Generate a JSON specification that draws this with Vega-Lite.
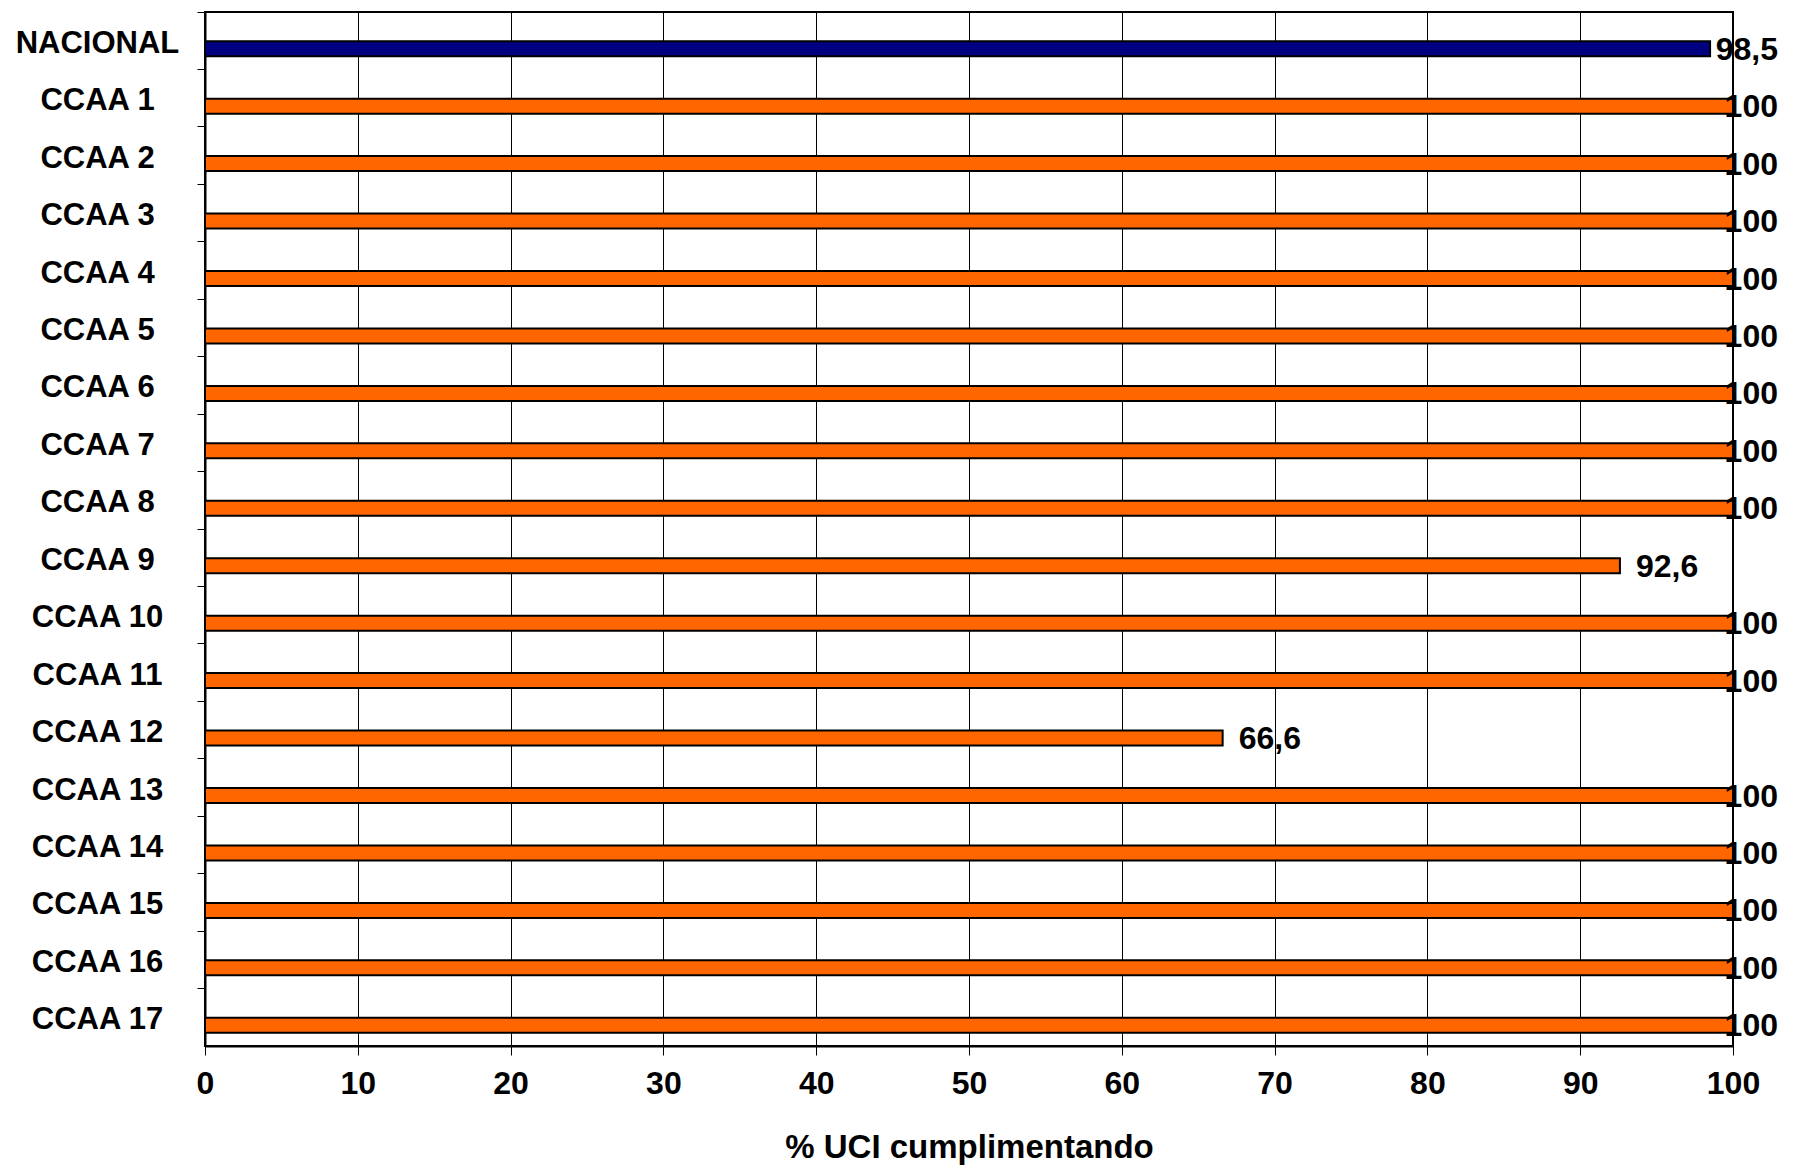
{
  "$schema": "https://vega.github.io/schema/vega-lite/v6.json",
  "autosize": "none",
  "width": 1528,
  "height": 1034,
  "padding": {"left": 205, "top": 12, "right": 64, "bottom": 129},
  "background": "white",
  "config": {
    "view": {"stroke": "black", "strokeWidth": 2},
    "font": "Liberation Sans",
    "axis": {
      "labelFont": "Liberation Sans",
      "titleFont": "Liberation Sans",
      "labelFontWeight": "bold",
      "titleFontWeight": "bold",
      "labelColor": "black",
      "titleColor": "black",
      "labelFontSize": 32,
      "titleFontSize": 33,
      "domainColor": "black",
      "domainWidth": 2,
      "tickColor": "black"
    }
  },
  "data": {
    "values": [
      {"region": "NACIONAL", "value": 98.5, "label": "98,5", "tipo": "nacional"},
      {"region": "CCAA 1", "value": 100, "label": "100", "tipo": "ccaa"},
      {"region": "CCAA 2", "value": 100, "label": "100", "tipo": "ccaa"},
      {"region": "CCAA 3", "value": 100, "label": "100", "tipo": "ccaa"},
      {"region": "CCAA 4", "value": 100, "label": "100", "tipo": "ccaa"},
      {"region": "CCAA 5", "value": 100, "label": "100", "tipo": "ccaa"},
      {"region": "CCAA 6", "value": 100, "label": "100", "tipo": "ccaa"},
      {"region": "CCAA 7", "value": 100, "label": "100", "tipo": "ccaa"},
      {"region": "CCAA 8", "value": 100, "label": "100", "tipo": "ccaa"},
      {"region": "CCAA 9", "value": 92.6, "label": "92,6", "tipo": "ccaa"},
      {"region": "CCAA 10", "value": 100, "label": "100", "tipo": "ccaa"},
      {"region": "CCAA 11", "value": 100, "label": "100", "tipo": "ccaa"},
      {"region": "CCAA 12", "value": 66.6, "label": "66,6", "tipo": "ccaa"},
      {"region": "CCAA 13", "value": 100, "label": "100", "tipo": "ccaa"},
      {"region": "CCAA 14", "value": 100, "label": "100", "tipo": "ccaa"},
      {"region": "CCAA 15", "value": 100, "label": "100", "tipo": "ccaa"},
      {"region": "CCAA 16", "value": 100, "label": "100", "tipo": "ccaa"},
      {"region": "CCAA 17", "value": 100, "label": "100", "tipo": "ccaa"}
    ]
  },
  "encoding": {
    "y": {
      "field": "region",
      "type": "nominal",
      "sort": null,
      "scale": {"paddingInner": 0, "paddingOuter": 0},
      "axis": {
        "title": null,
        "labelAlign": "center",
        "labelPadding": 100,
        "labelFontSize": 31,
        "labelOffset": 3,
        "tickSize": 8,
        "tickWidth": 1,
        "bandPosition": 0,
        "labelBaseline": "middle"
      }
    }
  },
  "layer": [
    {
      "mark": {"type": "bar", "size": 15, "yOffset": 8, "stroke": "black", "strokeWidth": 2},
      "encoding": {
        "x": {
          "field": "value",
          "type": "quantitative",
          "scale": {"domain": [0, 100], "nice": false},
          "axis": {
            "title": "% UCI cumplimentando",
            "values": [0, 10, 20, 30, 40, 50, 60, 70, 80, 90, 100],
            "grid": true,
            "gridColor": "black",
            "gridWidth": 1,
            "gridOpacity": 1,
            "tickSize": 9,
            "tickWidth": 1,
            "labelFlush": false,
            "labelPadding": 13,
            "titlePadding": 32
          }
        },
        "color": {
          "field": "tipo",
          "type": "nominal",
          "scale": {"domain": ["nacional", "ccaa"], "range": ["#000080", "#FF6600"]},
          "legend": null
        }
      }
    },
    {
      "transform": [{"filter": "datum.value < 95"}],
      "mark": {"type": "text", "align": "left", "baseline": "middle", "dx": 16, "yOffset": 9, "fontSize": 32, "fontWeight": "bold", "color": "black"},
      "encoding": {
        "x": {"field": "value", "type": "quantitative"},
        "text": {"field": "label"}
      }
    },
    {
      "transform": [{"filter": "datum.value >= 95"}],
      "mark": {"type": "text", "align": "right", "baseline": "middle", "dx": 45, "yOffset": 9, "fontSize": 32, "fontWeight": "bold", "color": "black"},
      "encoding": {
        "x": {"datum": 100, "type": "quantitative"},
        "text": {"field": "label"}
      }
    }
  ]
}
